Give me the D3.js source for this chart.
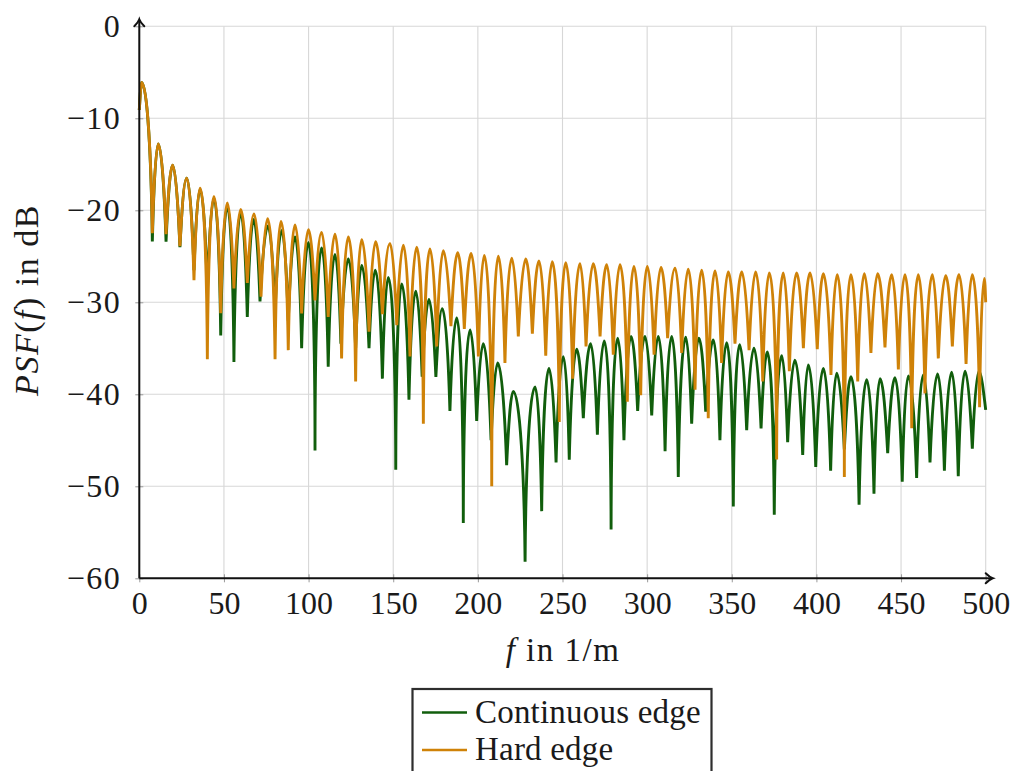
<!DOCTYPE html>
<html>
<head>
<meta charset="utf-8">
<script src="https://cdn.jsdelivr.net/npm/d3@7"></script>
<style>
  body { margin: 0; background: #fff; }
  svg text { font-family: "Liberation Serif", "Times New Roman", serif; fill: #1a1a1a; }
</style>
</head>
<body>
<svg id="chart" width="1011" height="771"></svg>
<script>
// ---- Hard edge: lobe boundaries (start, nulls, end) and lobe maxima ----
const hardNodeF = [0, 7.7, 15.8, 24.0, 32.3, 40.2, 48.1, 55.9, 63.8, 71.9, 80.2, 88.0, 95.9, 103.8, 111.6, 119.5, 127.8, 135.7, 143.6, 152.1, 159.9, 167.8, 175.7, 184.1, 192.0, 200.3, 208.2, 216.0, 223.9, 232.2, 240.1, 248.1, 256.0, 263.9, 272.2, 280.0, 288.3, 296.2, 304.1, 312.1, 320.4, 328.3, 336.1, 344.0, 351.9, 360.2, 368.3, 376.5, 384.0, 392.3, 400.5, 408.6, 416.5, 424.4, 432.2, 440.5, 448.4, 456.3, 464.1, 472.0, 480.3, 488.4, 496.4, 500];
const hardNodeDb = [-9.1, -22.5, -22.6, -23.9, -27.6, -36.2, -31.2, -28.5, -27.9, -29.4, -36.2, -35.2, -31.2, -29.8, -31.6, -36.1, -38.6, -33.2, -31.3, -32.5, -35.9, -43.2, -34.8, -32.6, -32.9, -35.9, -50.0, -36.6, -33.7, -33.4, -35.8, -43.0, -38.3, -34.8, -33.7, -35.7, -40.8, -40.1, -35.7, -33.9, -35.5, -39.5, -42.6, -36.6, -34.5, -35.2, -38.6, -47.1, -37.5, -35.0, -35.1, -37.9, -49.0, -38.6, -35.5, -34.9, -37.3, -43.7, -39.9, -36.1, -34.8, -36.7, -41.4, -30.0];
const hardPeakF = [1.4, 11.2, 19.7, 28.0, 35.9, 44.1, 52.0, 59.9, 67.8, 75.8, 83.7, 92.0, 99.9, 107.7, 115.6, 123.5, 131.4, 139.6, 148.1, 156.0, 163.9, 171.7, 179.6, 188.1, 196.0, 203.8, 212.1, 220.0, 228.3, 236.1, 244.0, 251.9, 260.3, 268.2, 276.1, 284.0, 292.2, 300.1, 308.2, 316.5, 324.3, 332.2, 340.1, 347.9, 355.9, 364.1, 372.2, 380.4, 388.3, 396.2, 404.1, 412.3, 420.4, 428.3, 436.2, 444.5, 452.3, 460.2, 468.5, 476.4, 484.2, 492.1, 499.2];
const hardPeakDb = [-6.1, -12.8, -15.1, -16.5, -17.6, -18.5, -19.2, -19.9, -20.4, -20.9, -21.2, -21.6, -22.1, -22.4, -22.6, -22.9, -23.2, -23.4, -23.6, -23.8, -24.0, -24.2, -24.4, -24.6, -24.7, -24.9, -25.0, -25.2, -25.3, -25.5, -25.6, -25.7, -25.8, -25.8, -25.9, -25.9, -26.1, -26.1, -26.2, -26.3, -26.4, -26.5, -26.6, -26.7, -26.7, -26.7, -26.8, -26.8, -26.8, -26.8, -26.9, -27.0, -27.0, -26.9, -26.9, -27.0, -27.0, -27.0, -27.0, -27.1, -27.0, -27.0, -27.4];

// ---- Continuous edge ----
const contNodeF = [0, 7.7, 15.8, 24.0, 32.3, 40.2, 48.1, 55.9, 63.8, 71.3, 80.2, 88.0, 95.9, 103.8, 111.6, 119.1, 127.8, 135.7, 143.6, 151.5, 159.3, 167.1, 175.2, 183.5, 191.4, 199.3, 207.8, 217.0, 227.9, 237.7, 246.2, 254.0, 262.3, 270.6, 278.7, 286.3, 294.4, 302.7, 310.6, 318.4, 326.3, 334.6, 343.0, 350.9, 358.8, 367.3, 375.1, 383.0, 391.9, 399.6, 408.4, 416.5, 425.2, 434.0, 442.1, 450.7, 459.2, 467.1, 475.6, 483.8, 492.1, 500];
const contNodeDb = [-9.1, -23.4, -23.4, -24.0, -26.5, -29.0, -33.6, -36.5, -31.6, -29.9, -31.0, -32.0, -35.0, -46.1, -37.0, -34.5, -35.0, -35.0, -38.3, -48.2, -40.6, -38.1, -38.1, -41.8, -54.0, -42.9, -45.0, -47.7, -58.2, -52.7, -47.4, -47.1, -42.6, -44.4, -54.7, -45.0, -41.8, -42.3, -46.2, -49.0, -43.2, -41.9, -45.0, -52.2, -43.9, -43.7, -53.1, -45.2, -46.6, -47.9, -48.3, -46.0, -52.0, -50.8, -46.4, -49.5, -49.1, -47.4, -48.3, -48.9, -45.9, -41.7];
const contPeakF = [1.4, 11.2, 19.7, 28.0, 35.9, 44.1, 52.0, 59.9, 67.6, 76.0, 84.1, 92.0, 99.9, 107.7, 115.6, 123.5, 131.4, 139.4, 147.1, 155.0, 163.3, 171.1, 179.0, 187.5, 195.4, 203.2, 211.7, 220.9, 233.8, 242.0, 250.5, 258.4, 266.6, 274.7, 282.6, 290.5, 298.7, 306.6, 314.5, 322.8, 330.6, 339.1, 347.0, 354.6, 363.1, 371.0, 379.5, 387.3, 395.2, 404.1, 412.0, 420.4, 429.7, 437.6, 446.4, 454.3, 463.1, 471.6, 479.9, 487.8, 496.0];
const contPeakDb = [-6.1, -12.8, -15.1, -16.5, -17.7, -18.7, -19.6, -20.3, -21.0, -21.7, -22.2, -22.9, -23.5, -24.1, -24.8, -25.3, -26.0, -26.5, -27.3, -28.0, -28.8, -29.7, -30.7, -31.7, -33.0, -34.5, -36.6, -39.7, -39.2, -37.2, -35.9, -35.1, -34.5, -34.2, -33.9, -33.7, -33.7, -33.7, -33.7, -33.8, -33.9, -34.1, -34.4, -34.6, -35.0, -35.4, -35.8, -36.3, -36.8, -37.2, -37.7, -38.1, -38.4, -38.3, -38.2, -38.0, -37.9, -37.8, -37.6, -37.5, -37.5];

// ---- axes ----
const xTicks = [0, 50, 100, 150, 200, 250, 300, 350, 400, 450, 500];
const yTicks = [0, -10, -20, -30, -40, -50, -60];
const seriesNames = ["Continuous edge", "Hard edge"];
const seriesColors = ["#115e0c", "#cf8208"];

const svg = d3.select("#chart");
const x = d3.scaleLinear().domain([0, 500]).range([139.3, 985.7]);
const y = d3.scaleLinear().domain([-60, 0]).range([578.3, 26.3]);

// grid
const grid = svg.append("g").attr("stroke", "#d7d7d7").attr("stroke-width", 1.1);
grid.selectAll("line.gx").data(xTicks).join("line")
  .attr("x1", d => x(d)).attr("x2", d => x(d))
  .attr("y1", y(0)).attr("y2", y(-60));
grid.selectAll("line.gy").data(yTicks).join("line")
  .attr("x1", x(0)).attr("x2", x(500))
  .attr("y1", d => y(d)).attr("y2", d => y(d));

// Each lobe: steep near its nulls, rounded at its maximum.
function halfControls(nx, ny, ndb, px, py, pdb) {
  const depth = Math.abs(ndb - pdb);
  const k = Math.max(0, Math.min(1, (depth - 4) / 18));
  const dx = px - nx;
  return {
    cn: [nx + dx * (1 - k) / 3, ny + (py - ny) * 0.5],
    cp: [px - dx * (1 / 3 + 0.27 * k), py]
  };
}
function lobePath(nodeF, nodeDb, peakF, peakDb) {
  const p = d3.path();
  p.moveTo(x(nodeF[0]), y(nodeDb[0]));
  for (let i = 0; i < peakF.length; i++) {
    const px = x(peakF[i]), py = y(peakDb[i]);
    const ax = x(nodeF[i]), ay = y(nodeDb[i]);
    const bx = x(nodeF[i + 1]), by = y(nodeDb[i + 1]);
    const up = halfControls(ax, ay, nodeDb[i], px, py, peakDb[i]);
    p.bezierCurveTo(up.cn[0], up.cn[1], up.cp[0], up.cp[1], px, py);
    const down = halfControls(bx, by, nodeDb[i + 1], px, py, peakDb[i]);
    p.bezierCurveTo(down.cp[0], down.cp[1], down.cn[0], down.cn[1], bx, by);
  }
  return p.toString();
}

const lines = svg.append("g").attr("fill", "none").attr("stroke-width", 2.9);
lines.append("path").attr("stroke", seriesColors[0])
  .attr("d", lobePath(contNodeF, contNodeDb, contPeakF, contPeakDb));
lines.append("path").attr("stroke", seriesColors[1])
  .attr("d", lobePath(hardNodeF, hardNodeDb, hardPeakF, hardPeakDb));

// axes with ticks and labels
const xAxis = svg.append("g").attr("transform", `translate(0,${y(-60)})`)
  .call(d3.axisBottom(x).tickValues(xTicks).tickSizeInner(4).tickSizeOuter(0).tickPadding(8.5));
const yAxis = svg.append("g").attr("transform", `translate(${x(0)},0)`)
  .call(d3.axisLeft(y).tickValues(yTicks).tickSizeInner(4).tickSizeOuter(0).tickPadding(14));
[xAxis, yAxis].forEach(g => {
  g.select(".domain").remove();
  g.attr("font-family", null).attr("font-size", 32);
  g.selectAll("text").attr("fill", "#1a1a1a");
});
yAxis.selectAll("text").attr("letter-spacing", 1.5);
xAxis.selectAll(".tick line").attr("y1", -4).attr("stroke", "#9a9a9a").attr("stroke-width", 1);
yAxis.selectAll(".tick line").attr("x1", 4).attr("stroke", "#9a9a9a").attr("stroke-width", 1);

// axis lines with arrow tips
const ax = svg.append("g").attr("stroke", "#111").attr("fill", "none").attr("stroke-width", 2);
ax.append("line").attr("x1", x(0)).attr("x2", x(500) + 6).attr("y1", y(-60)).attr("y2", y(-60));
ax.append("line").attr("x1", x(0)).attr("x2", x(0)).attr("y1", y(-60)).attr("y2", y(0) - 6);
const tipX = [x(500) + 7, y(-60)];
ax.append("path").attr("stroke-linecap", "round")
  .attr("d", `M${tipX[0] - 7},${tipX[1] - 5} Q${tipX[0] - 3},${tipX[1] - 1} ${tipX[0]},${tipX[1]} Q${tipX[0] - 3},${tipX[1] + 1} ${tipX[0] - 7},${tipX[1] + 5}`);
const tipY = [x(0), y(0) - 7];
ax.append("path").attr("stroke-linecap", "round")
  .attr("d", `M${tipY[0] - 5},${tipY[1] + 7} Q${tipY[0] - 1},${tipY[1] + 3} ${tipY[0]},${tipY[1]} Q${tipY[0] + 1},${tipY[1] + 3} ${tipY[0] + 5},${tipY[1] + 7}`);

// axis titles
const xt = svg.append("text").attr("x", 563).attr("y", 661).attr("text-anchor", "middle")
  .attr("font-size", 33).attr("letter-spacing", 1.5);
xt.append("tspan").attr("font-style", "italic").text("f");
xt.append("tspan").text(" in 1/m");

const yt = svg.append("text").attr("transform", "translate(38,300) rotate(-90)")
  .attr("text-anchor", "middle").attr("font-size", 34).attr("letter-spacing", 1.5);
yt.append("tspan").attr("font-style", "italic").text("PSF");
yt.append("tspan").text("(");
yt.append("tspan").attr("font-style", "italic").text("f");
yt.append("tspan").text(") in dB");

// legend
const lg = svg.append("g");
lg.append("rect").attr("x", 412.5).attr("y", 689).attr("width", 299).attr("height", 120)
  .attr("fill", "#fff").attr("stroke", "#2e2e2e").attr("stroke-width", 2.2);
seriesNames.forEach((name, i) => {
  const cy = 712.5 + i * 37.5;
  lg.append("line").attr("x1", 422).attr("x2", 467).attr("y1", cy).attr("y2", cy)
    .attr("stroke", seriesColors[i]).attr("stroke-width", 2.6);
  lg.append("text").attr("x", 475).attr("y", cy + 10).attr("font-size", 33)
    .attr("letter-spacing", 0.2).text(name);
});
</script>
</body>
</html>
